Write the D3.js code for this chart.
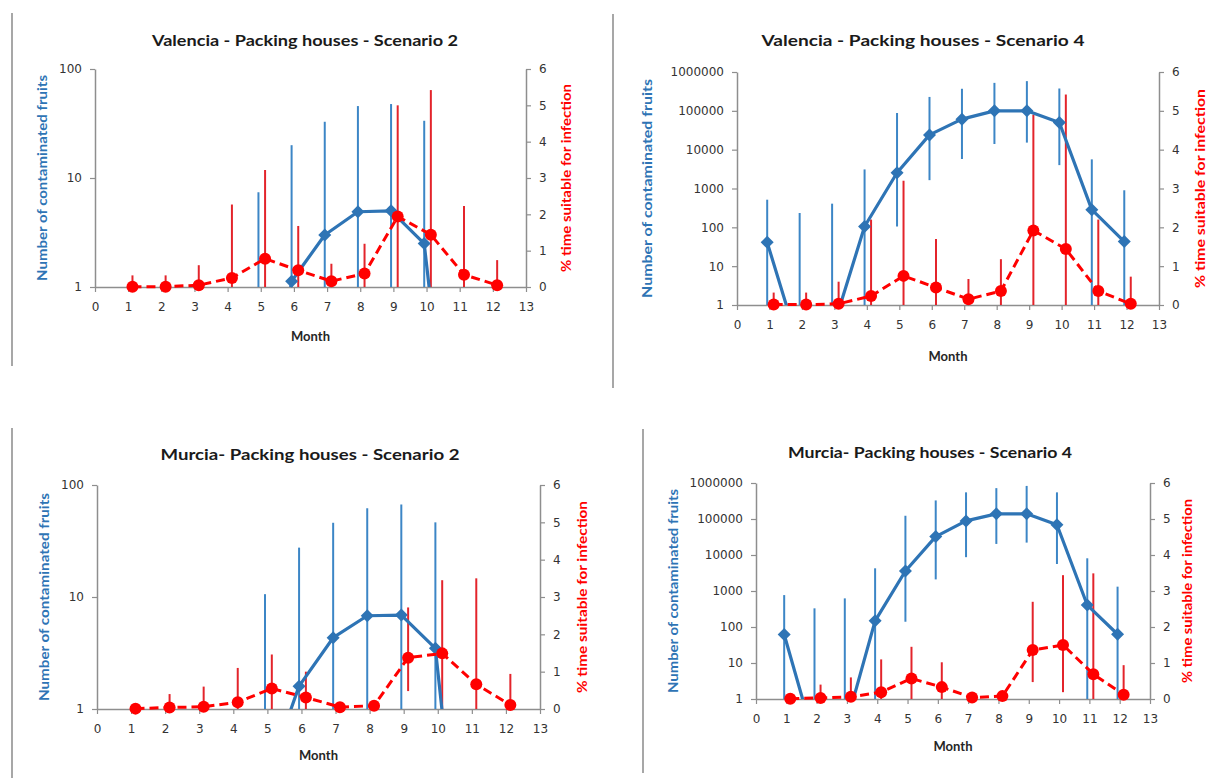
<!DOCTYPE html>
<html>
<head>
<meta charset="utf-8">
<script src="https://cdn.jsdelivr.net/npm/d3@7"></script>
<style>
body { margin: 0; background: #fff; }
svg { display: block; }
</style>
</head>
<body>
<svg id="chart" width="1228" height="778"></svg>
<script>
// ---- data ----
var months = [1, 2, 3, 4, 5, 6, 7, 8, 9, 10, 11, 12];
var xTicks = [0, 1, 2, 3, 4, 5, 6, 7, 8, 9, 10, 11, 12, 13];
var countTicksS2 = [1, 10, 100];
var countTicksS4 = [1, 10, 100, 1000, 10000, 100000, 1000000];
var pctTicks = [0, 1, 2, 3, 4, 5, 6];

var titles = [
	"Valencia - Packing houses - Scenario 2",
	"Valencia - Packing houses - Scenario 4",
	"Murcia- Packing houses - Scenario 2",
	"Murcia- Packing houses - Scenario 4"
];
var countLabel = "Number of contaminated fruits";
var pctLabel = "% time suitable for infection";
var monthLabel = "Month";

// Valencia, scenario 2 (means below 1 sit under the axis)
var vS2Count   = [0.01, 0.01, 0.01, 0.01, 0.01, 1.13, 3.0, 4.9, 5.0, 2.5, 0.005, 0.005];
var vS2CountHi = [0, 0, 0, 0, 7.4, 20, 32.8, 45.7, 47.7, 33.5, 0, 0];
var vS2CountLo = [0, 0, 0, 0, 0, 0, 0, 0, 0, 0, 0, 0];
var vS2Pct     = [0.01, 0.01, 0.05, 0.25, 0.78, 0.46, 0.16, 0.37, 1.94, 1.44, 0.34, 0.05];
var vS2PctHi   = [0.32, 0.32, 0.6, 2.27, 3.22, 1.68, 0.64, 1.19, 5.0, 5.42, 2.23, 0.74];
var vS2PctLo   = [0, 0, 0, 0, 0, 0, 0, 0, 0, 0, 0, 0];

// Valencia, scenario 4
var vS4Count   = [41, 0.075, 0.21, 105, 2540, 24000, 61000, 100000, 100000, 50000, 285, 43];
var vS4CountHi = [515, 234, 407, 3100, 88000, 228000, 370000, 525000, 582000, 376000, 5630, 900];
var vS4CountLo = [0, 0, 0, 0, 105, 1640, 5750, 14000, 15200, 4000, 0, 0];
var vS4Pct     = [0.01, 0.01, 0.03, 0.23, 0.75, 0.45, 0.15, 0.36, 1.92, 1.44, 0.36, 0.03];
var vS4PctHi   = [0.32, 0.32, 0.6, 2.2, 3.2, 1.7, 0.67, 1.18, 4.9, 5.42, 2.2, 0.73];
var vS4PctLo   = [0, 0, 0, 0, 0, 0, 0, 0, 0, 0, 0, 0];

// Murcia, scenario 2
var mS2Count   = [0.01, 0.01, 0.01, 0.01, 0.22, 1.6, 4.33, 6.8, 6.9, 3.48, 0.005, 0.005];
var mS2CountHi = [0, 0, 0, 0, 10.6, 27.6, 46, 62, 67, 46.4, 0, 0];
var mS2CountLo = [0, 0, 0, 0, 0, 0, 0, 0, 0, 0, 0, 0];
var mS2Pct     = [0.01, 0.04, 0.06, 0.18, 0.55, 0.31, 0.05, 0.09, 1.375, 1.49, 0.66, 0.11];
var mS2PctHi   = [0.1, 0.4, 0.6, 1.1, 1.46, 1.0, 0.1, 0.15, 2.72, 3.45, 3.5, 0.94];
var mS2PctLo   = [0, 0, 0, 0, 0, 0, 0, 0, 0.48, 0, 0, 0];

// Murcia, scenario 4
var mS4Count   = [62, 0.07, 0.14, 148, 3600, 32500, 88500, 139000, 139000, 69000, 407, 63];
var mS4CountHi = [770, 330, 624, 4270, 123000, 328000, 550000, 720000, 830000, 550000, 8100, 1320];
var mS4CountLo = [0, 0, 0, 0, 140, 2100, 8700, 20300, 22100, 5630, 0, 0];
var mS4Pct     = [0.01, 0.03, 0.06, 0.19, 0.57, 0.33, 0.04, 0.08, 1.36, 1.5, 0.69, 0.12];
var mS4PctHi   = [0.05, 0.4, 0.6, 1.1, 1.45, 1.02, 0.1, 0.12, 2.7, 3.44, 3.49, 0.94];
var mS4PctLo   = [0, 0, 0, 0, 0, 0, 0, 0, 0.47, 0.19, 0, 0];

// ---- layout ----
var BLUE = "#2e74b5";
var BLUE_BAR = "#3c86c6";
var RED = "#ff0000";
var RED_BAR = "#e3242b";
var AXIS = "#8e8e8e";
var TEXT = "#333333";

// blue and red markers are nudged off the month a little, like the original
var blueOff = -0.07;
var redOff = 0.13;

var panels = [
	{ id: 1, title: titles[0], count: vS2Count, countHi: vS2CountHi, countLo: vS2CountLo,
	  pct: vS2Pct, pctHi: vS2PctHi, pctLo: vS2PctLo, countTicks: countTicksS2,
	  x0: 95, x1: 526, yt: 69, yb: 287, tx: 305, ty: 40, tw: 306, my: 336,
	  lx: 42, lw: 206, rx: 566, rw: 188, border: [12, 13, 366] },
	{ id: 2, title: titles[1], count: vS4Count, countHi: vS4CountHi, countLo: vS4CountLo,
	  pct: vS4Pct, pctHi: vS4PctHi, pctLo: vS4PctLo, countTicks: countTicksS4,
	  x0: 737, x1: 1159, yt: 72, yb: 305, tx: 923, ty: 40, tw: 323, my: 356,
	  lx: 647, lw: 219, rx: 1200, rw: 199, border: [613, 14, 388] },
	{ id: 3, title: titles[2], count: mS2Count, countHi: mS2CountHi, countLo: mS2CountLo,
	  pct: mS2Pct, pctHi: mS2PctHi, pctLo: mS2PctLo, countTicks: countTicksS2,
	  x0: 97, x1: 540, yt: 485, yb: 709, tx: 310, ty: 454, tw: 299, my: 755,
	  lx: 44, lw: 208, rx: 582, rw: 192, border: [12, 428, 778] },
	{ id: 4, title: titles[3], count: mS4Count, countHi: mS4CountHi, countLo: mS4CountLo,
	  pct: mS4Pct, pctHi: mS4PctHi, pctLo: mS4PctLo, countTicks: countTicksS4,
	  x0: 756, x1: 1150, yt: 483, yb: 699, tx: 930, ty: 452, tw: 284, my: 746,
	  lx: 673, lw: 204, rx: 1187, rw: 184, border: [643, 429, 773] }
];

var svg = d3.select("#chart");
var defs = svg.append("defs");

function styleAxis(sel) {
	sel.select(".domain").attr("stroke", AXIS).attr("stroke-width", 1.5);
	sel.selectAll(".tick line").attr("stroke", AXIS).attr("stroke-width", 1.2);
	sel.selectAll(".tick text")
		.attr("fill", TEXT)
		.style("font-family", "'DejaVu Sans', sans-serif")
		.style("font-size", "12px");
}

function diamond(cx, cy, r) {
	return "M" + cx + "," + (cy - r) + "L" + (cx + r) + "," + cy +
		"L" + cx + "," + (cy + r) + "L" + (cx - r) + "," + cy + "Z";
}

function drawPanel(p) {
	var g = svg.append("g").attr("class", "panel-" + p.id);

	var x = d3.scaleLinear().domain([0, 13]).range([p.x0, p.x1]);
	var yL = d3.scaleLog().domain([1, p.countTicks[p.countTicks.length - 1]]).range([p.yb, p.yt]);
	var yLc = yL.copy().clamp(true);
	var yR = d3.scaleLinear().domain([0, 6]).range([p.yb, p.yt]);

	var clipId = "clip-" + p.id;
	defs.append("clipPath").attr("id", clipId)
		.append("rect")
		.attr("x", p.x0).attr("y", p.yt)
		.attr("width", p.x1 - p.x0).attr("height", p.yb - p.yt);

	// left edge of the cropped figure
	g.append("line")
		.attr("x1", p.border[0]).attr("x2", p.border[0])
		.attr("y1", p.border[1]).attr("y2", p.border[2])
		.attr("stroke", "#8a8a8a").attr("stroke-width", 1.5);

	// title
	g.append("text")
		.attr("x", p.tx).attr("y", p.ty)
		.attr("text-anchor", "middle").attr("dominant-baseline", "central")
		.attr("textLength", p.tw).attr("lengthAdjust", "spacingAndGlyphs")
		.style("font-family", "Lato, sans-serif").style("font-weight", "bold")
		.style("font-size", "15px").attr("fill", "#1a1a1a")
		.text(p.title);

	// axes
	var ax = g.append("g").attr("transform", "translate(0," + p.yb + ")")
		.call(d3.axisBottom(x).tickValues(xTicks).tickSize(5).tickSizeOuter(0).tickPadding(10));
	styleAxis(ax);

	var al = g.append("g").attr("transform", "translate(" + p.x0 + ",0)")
		.call(d3.axisLeft(yL).tickValues(p.countTicks).tickFormat(d3.format("d"))
			.tickSize(5).tickSizeOuter(0).tickPadding(8));
	styleAxis(al);

	var ar = g.append("g").attr("transform", "translate(" + p.x1 + ",0)")
		.call(d3.axisRight(yR).tickValues(pctTicks).tickFormat(d3.format("d"))
			.tickSize(5).tickSizeOuter(0).tickPadding(8));
	styleAxis(ar);

	// axis titles
	g.append("text")
		.attr("x", (p.x0 + p.x1) / 2).attr("y", p.my)
		.attr("text-anchor", "middle").attr("dominant-baseline", "central")
		.style("font-family", "Lato, sans-serif").style("font-weight", "bold")
		.style("font-size", "13px").attr("fill", "#262626")
		.text(monthLabel);

	var cy = (p.yt + p.yb) / 2;
	g.append("text")
		.attr("transform", "translate(" + p.lx + "," + cy + ") rotate(-90)")
		.attr("text-anchor", "middle").attr("dominant-baseline", "central")
		.attr("textLength", p.lw).attr("lengthAdjust", "spacingAndGlyphs")
		.style("font-family", "Lato, sans-serif").style("font-weight", "bold")
		.style("font-size", "12.5px").attr("fill", BLUE)
		.text(countLabel);

	g.append("text")
		.attr("transform", "translate(" + p.rx + "," + cy + ") rotate(-90)")
		.attr("text-anchor", "middle").attr("dominant-baseline", "central")
		.attr("textLength", p.rw).attr("lengthAdjust", "spacingAndGlyphs")
		.style("font-family", "Lato, sans-serif").style("font-weight", "bold")
		.style("font-size", "12.5px").attr("fill", RED)
		.text(pctLabel);

	var blue = months.map(function(m, i) {
		return { m: m, v: p.count[i], hi: p.countHi[i], lo: p.countLo[i] };
	});
	var red = months.map(function(m, i) {
		return { m: m, v: p.pct[i], hi: p.pctHi[i], lo: p.pctLo[i] };
	});

	var plot = g.append("g").attr("clip-path", "url(#" + clipId + ")");

	// error bars
	plot.selectAll("line.blue-err")
		.data(blue.filter(function(d) { return d.hi > 1; }))
		.enter().append("line").attr("class", "blue-err")
		.attr("x1", function(d) { return x(d.m + blueOff); })
		.attr("x2", function(d) { return x(d.m + blueOff); })
		.attr("y1", function(d) { return yLc(d.hi); })
		.attr("y2", function(d) { return yLc(d.lo); })
		.attr("stroke", BLUE_BAR).attr("stroke-width", 2);

	plot.selectAll("line.red-err")
		.data(red.filter(function(d) { return d.hi > d.lo; }))
		.enter().append("line").attr("class", "red-err")
		.attr("x1", function(d) { return x(d.m + redOff); })
		.attr("x2", function(d) { return x(d.m + redOff); })
		.attr("y1", function(d) { return yR(d.hi); })
		.attr("y2", function(d) { return yR(d.lo); })
		.attr("stroke", RED_BAR).attr("stroke-width", 2);

	// count line
	var blueLine = d3.line()
		.x(function(d) { return x(d.m + blueOff); })
		.y(function(d) { return yL(d.v); });
	plot.append("path").datum(blue)
		.attr("d", blueLine)
		.attr("fill", "none").attr("stroke", BLUE).attr("stroke-width", 3.2)
		.attr("stroke-linejoin", "round");

	g.selectAll("path.blue-pt")
		.data(blue.filter(function(d) { return d.v >= 1; }))
		.enter().append("path").attr("class", "blue-pt")
		.attr("d", function(d) { return diamond(x(d.m + blueOff), yL(d.v), 6.5); })
		.attr("fill", BLUE);

	// % time line
	var redLine = d3.line()
		.x(function(d) { return x(d.m + redOff); })
		.y(function(d) { return yR(d.v); });
	g.append("path").datum(red)
		.attr("d", redLine)
		.attr("fill", "none").attr("stroke", RED).attr("stroke-width", 3)
		.attr("stroke-dasharray", "9,5");

	g.selectAll("circle.red-pt")
		.data(red)
		.enter().append("circle").attr("class", "red-pt")
		.attr("cx", function(d) { return x(d.m + redOff); })
		.attr("cy", function(d) { return yR(d.v); })
		.attr("r", 6)
		.attr("fill", RED);
}

panels.forEach(drawPanel);
</script>
</body>
</html>
